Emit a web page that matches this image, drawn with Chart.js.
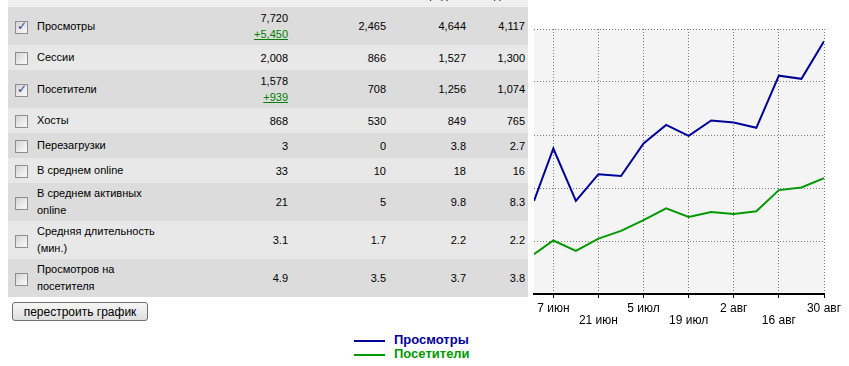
<!DOCTYPE html>
<html>
<head>
<meta charset="utf-8">
<script src="https://cdn.jsdelivr.net/npm/chart.js@4/dist/chart.umd.min.js"></script>
<style>
  body { margin: 0; background: #fff; font-family: Arial, "Liberation Sans", sans-serif; font-size: 11px; color: #000; }
  #stats { position: absolute; left: 8px; top: 0; width: 520px; border-collapse: collapse; table-layout: fixed; }
  #stats td { padding: 0; vertical-align: middle; line-height: 16px; }
  #stats tr.hd td { height: 7px; background: #efefef; }
  #stats tr.hd div { height: 7px; overflow: hidden; text-align: right; padding-right: 3px; }
  #stats tr.hd span { display: block; line-height: 11px; margin-top: -10px; }
  #stats tr.dark td { background: #dcdcdc; }
  #stats tr.light td { background: #e8e8e8; }
  #stats td.lbl { padding-left: 5px; line-height: 17px; }
  #stats td.num { text-align: right; padding-right: 3px; }
  #stats a { color: #008000; text-decoration: underline; }
  .cb { display: inline-block; width: 11px; height: 11px; border: 1px solid #8e8e8e; margin-left: 7px;
        background: linear-gradient(135deg, #d4d4d4, #fcfcfc); position: relative; vertical-align: middle; }
  .cb.on::after { content: "\2713"; position: absolute; left: 1px; top: -3px; font: bold 12px "DejaVu Sans"; color: #2b3f92; }
  #rebuild { position: absolute; left: 12px; top: 302px; width: 136px; height: 19px; padding: 0;
             font: 12px Arial, "Liberation Sans", sans-serif; color: #000; border: 1px solid #6f6f6f; border-radius: 3px;
             background: linear-gradient(#f6f6f6, #dedede); }
  #chartBox { position: absolute; left: 528px; top: 0; width: 321px; height: 366px; }
  #legend { position: absolute; left: 354px; top: 333px; font: bold 13px Arial, "Liberation Sans", sans-serif; }
  #legend div { height: 14px; line-height: 14px; white-space: nowrap; }
  #legend i { display: inline-block; width: 31px; height: 2px; vertical-align: middle; margin-right: 9px; }
</style>
</head>
<body>
<table id="stats"></table>
<button id="rebuild">перестроить график</button>
<div id="chartBox"><canvas id="chartCanvas" width="321" height="366"></canvas></div>
<div id="legend"></div>

<script>
// table
const headers = ['Всего', 'Мин.', 'Среднее', 'Медиана'];
const rowLabels = ['Просмотры', 'Сессии', 'Посетители', 'Хосты', 'Перезагрузки', 'В среднем online',
  'В среднем активных<br>online', 'Средняя длительность<br>(мин.)', 'Просмотров на<br>посетителя'];
const rowChecked = [true, false, true, false, false, false, false, false, false];
const col1 = ['7,720', '2,008', '1,578', '868', '3', '33', '21', '3.1', '4.9'];
const col1Delta = ['+5,450', '', '+939', '', '', '', '', '', ''];
const col2 = ['2,465', '866', '708', '530', '0', '10', '5', '1.7', '3.5'];
const col3 = ['4,644', '1,527', '1,256', '849', '3.8', '18', '9.8', '2.2', '3.7'];
const col4 = ['4,117', '1,300', '1,074', '765', '2.7', '16', '8.3', '2.2', '3.8'];
const rowHeights = [38, 25, 38, 25, 25, 25, 38, 38, 38];

// chart: days counted from 1 June, one point per week
const pointDays = [0, 6, 13, 20, 27, 34, 41, 48, 55, 62, 69, 76, 83, 90];
const views = [351, 549, 351, 452, 445, 568, 638, 597, 655, 647, 627, 824, 812, 954];
const visitors = [150, 202, 163, 209, 238, 279, 323, 291, 309, 302, 312, 392, 402, 437];
const tickDays = [6, 20, 34, 48, 62, 76, 90];
const tickLabels = ['7 июн', '21 июн', '5 июл', '19 июл', '2 авг', '16 авг', '30 авг'];

let html = '<colgroup><col style="width:24px"><col style="width:168px"><col style="width:91px">' +
  '<col style="width:98px"><col style="width:80px"><col style="width:59px"></colgroup>';
html += '<tr class="hd"><td></td><td></td>' + headers.map(h => '<td><div><span>' + h + '</span></div></td>').join('') + '</tr>';
rowLabels.forEach((lab, i) => {
  let first = col1[i];
  if (col1Delta[i]) first += '<br><a href="#">' + col1Delta[i] + '</a>';
  html += '<tr class="' + (i % 2 ? 'light' : 'dark') + '" style="height:' + rowHeights[i] + 'px">' +
    '<td><span class="cb' + (rowChecked[i] ? ' on' : '') + '"></span></td>' +
    '<td class="lbl">' + lab + '</td>' +
    '<td class="num">' + first + '</td>' +
    '<td class="num">' + col2[i] + '</td>' +
    '<td class="num">' + col3[i] + '</td>' +
    '<td class="num">' + col4[i] + '</td></tr>';
});
document.getElementById('stats').innerHTML = html;

const series = [
  { name: 'Просмотры', values: views, color: '#000099' },
  { name: 'Посетители', values: visitors, color: '#009900' }
];

document.getElementById('legend').innerHTML = series.map(s =>
  '<div style="color:' + s.color + '"><i style="background:' + s.color + '"></i>' + s.name + '</div>').join('');

const plotBg = {
  id: 'plotBg',
  beforeDraw(chart) {
    const a = chart.chartArea, c = chart.ctx;
    c.save();
    c.fillStyle = '#f4f4f4';
    c.fillRect(a.left, a.top, a.right - a.left, a.bottom - a.top);
    c.restore();
  }
};

let chart = new Chart(document.getElementById('chartCanvas'), {
  type: 'line',
  data: {
    datasets: series.map(s => ({
      label: s.name,
      data: pointDays.map((d, i) => ({ x: d, y: s.values[i] })),
      borderColor: s.color,
      borderWidth: 2,
      pointRadius: 0,
      tension: 0
    }))
  },
  options: {
    responsive: false,
    animation: false,
    events: [],
    devicePixelRatio: 1,
    layout: { padding: { left: 6, top: 29, right: 25, bottom: 0 } },
    plugins: { legend: { display: false }, tooltip: { enabled: false } },
    scales: {
      x: {
        type: 'linear', min: 0, max: 90,
        afterBuildTicks: s => { s.ticks = tickDays.map(v => ({ value: v })); },
        afterFit: s => { s.height = 72; },
        ticks: {
          autoSkip: false, maxRotation: 0, padding: 5, color: '#000',
          font: { family: 'Arial', size: 12, lineHeight: 1 },
          callback: v => {
            const i = tickDays.indexOf(v);
            return i % 2 ? ['', tickLabels[i]] : tickLabels[i];
          }
        },
        grid: { color: '#7a7a7a', tickColor: '#000', tickLength: 4, tickWidth: 1 },
        border: { color: '#000', width: 2, dash: [1, 2] }
      },
      y: {
        min: 0, max: 1000,
        afterFit: s => { s.width = 0; },
        ticks: { display: false, stepSize: 200 },
        grid: { color: '#7a7a7a', drawTicks: false },
        border: { display: false, dash: [1, 2] }
      }
    }
  },
  plugins: [plotBg]
});
</script>
</body>
</html>
